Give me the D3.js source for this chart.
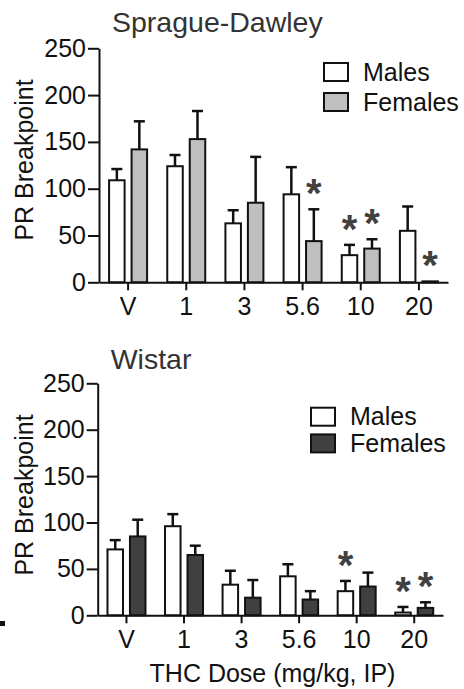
<!DOCTYPE html>
<html>
<head>
<meta charset="utf-8">
<script src="https://cdn.jsdelivr.net/npm/d3@7"></script>
<style>
  html, body { margin: 0; padding: 0; background: #fff; }
  svg { display: block; font-family: "Liberation Sans", Arial, sans-serif; }
</style>
</head>
<body>
<svg id="chart" width="464" height="689"></svg>
<script>
// THC dose groups (mg/kg, IP); V = vehicle
const doses = ["V", "1", "3", "5.6", "10", "20"];
const sexes = ["Males", "Females"];
const yTicks = [0, 50, 100, 150, 200, 250];

// Sprague-Dawley: mean PR breakpoint and SEM
const sdMaleMean   = [109, 124, 63, 94, 29, 55];
const sdMaleSem    = [12, 12, 14, 29, 11, 26];
const sdFemaleMean = [142, 153, 85, 44, 36, 1];
const sdFemaleSem  = [30, 30, 49, 34, 10, 0];
const sdMaleSig    = [false, false, false, false, true, false];
const sdFemaleSig  = [false, false, false, true, true, true];

// Wistar: mean PR breakpoint and SEM
const wiMaleMean   = [71, 96, 33, 42, 26, 3];
const wiMaleSem    = [10, 13, 15, 13, 11, 6];
const wiFemaleMean = [85, 65, 19, 17, 31, 8];
const wiFemaleSem  = [18, 10, 19, 9, 15, 6];
const wiMaleSig    = [false, false, false, false, true, true];
const wiFemaleSig  = [false, false, false, false, false, true];

const svg = d3.select("#chart");
const FONT = 25;
const STAR = 40;

function drawPanel(p) {
  const g = svg.append("g");

  const x = d3.scaleBand().domain(doses).range([p.left, p.right]).padding(0);
  const sub = d3.scaleBand().domain(sexes).range([-19, 19]).paddingInner(0.31);
  const y = d3.scaleLinear().domain([0, 250]).range([p.bottom, p.top]);

  const rows = [];
  doses.forEach((d, i) => {
    rows.push({ dose: d, sex: "Males", mean: p.maleMean[i], sem: p.maleSem[i], sig: p.maleSig[i] });
    rows.push({ dose: d, sex: "Females", mean: p.femaleMean[i], sem: p.femaleSem[i], sig: p.femaleSig[i] });
  });
  const cx = r => x(r.dose) + x.bandwidth() / 2 + sub(r.sex) + sub.bandwidth() / 2;
  const fill = { Males: "#ffffff", Females: p.femaleFill };

  // error bars (upper half only)
  const err = g.append("g").attr("stroke", "#111").attr("stroke-width", 2.5).attr("fill", "none");
  rows.filter(r => r.sem > 0).forEach(r => {
    err.append("line").attr("x1", cx(r)).attr("x2", cx(r))
      .attr("y1", y(r.mean)).attr("y2", y(r.mean + r.sem));
    err.append("line").attr("x1", cx(r) - 5.5).attr("x2", cx(r) + 5.5)
      .attr("y1", y(r.mean + r.sem)).attr("y2", y(r.mean + r.sem));
  });

  // bars
  g.append("g").selectAll("rect").data(rows).join("rect")
    .attr("x", r => x(r.dose) + x.bandwidth() / 2 + sub(r.sex))
    .attr("width", sub.bandwidth())
    .attr("y", r => y(r.mean))
    .attr("height", r => y(0) - y(r.mean))
    .attr("fill", r => fill[r.sex])
    .attr("stroke", "#111")
    .attr("stroke-width", 2);

  // significance markers, centred about 21px above the error cap
  g.append("g").selectAll("text").data(rows.filter(r => r.sig)).join("text")
    .attr("x", r => cx(r))
    .attr("y", r => y(r.mean + r.sem) - 21 + 0.47 * STAR)
    .attr("text-anchor", "middle")
    .attr("font-size", STAR)
    .attr("font-weight", "bold")
    .attr("fill", "#404040")
    .text("*");

  // axes
  const yAxis = g.append("g").attr("transform", `translate(${p.left},0)`)
    .call(d3.axisLeft(y).tickValues(yTicks).tickSize(11).tickSizeOuter(0).tickPadding(2));
  const xAxis = g.append("g").attr("transform", `translate(0,${p.bottom})`)
    .call(d3.axisBottom(x).tickSize(8).tickSizeOuter(0).tickPadding(7));
  [yAxis, xAxis].forEach(a => {
    a.selectAll("path, line").attr("stroke", "#111").attr("stroke-width", 2);
    a.selectAll("text").attr("font-size", FONT).attr("fill", "#111")
      .attr("font-family", "'Liberation Sans', Arial, sans-serif");
  });
  xAxis.selectAll("text").attr("dy", null).attr("y", 33);

  // titles
  g.append("text").attr("x", p.left + 13).attr("y", p.titleY)
    .attr("font-size", 28.5).attr("fill", "#333").text(p.title);
  g.append("text")
    .attr("transform", `translate(33,${p.labelY}) rotate(-90)`)
    .attr("text-anchor", "middle").attr("font-size", FONT).attr("fill", "#111")
    .text("PR Breakpoint");

  // legend
  const leg = g.append("g");
  sexes.forEach((s, i) => {
    const cy = p.legY + i * p.legGap;
    leg.append("rect").attr("x", p.legX).attr("y", cy - 9).attr("width", 24).attr("height", 18)
      .attr("fill", fill[s]).attr("stroke", "#111").attr("stroke-width", 2);
    leg.append("text").attr("x", p.legX + 39).attr("y", cy).attr("dy", "0.35em")
      .attr("font-size", FONT).attr("fill", "#111").text(s);
  });
}

drawPanel({
  title: "Sprague-Dawley", titleY: 32,
  left: 99, right: 448, top: 48.3, bottom: 282.3, labelY: 160,
  maleMean: sdMaleMean, maleSem: sdMaleSem, maleSig: sdMaleSig,
  femaleMean: sdFemaleMean, femaleSem: sdFemaleSem, femaleSig: sdFemaleSig,
  femaleFill: "#bfbfbf", legX: 324, legY: 72, legGap: 30
});

drawPanel({
  title: "Wistar", titleY: 369,
  left: 97.7, right: 443, top: 383.3, bottom: 615.3, labelY: 495,
  maleMean: wiMaleMean, maleSem: wiMaleSem, maleSig: wiMaleSig,
  femaleMean: wiFemaleMean, femaleSem: wiFemaleSem, femaleSig: wiFemaleSig,
  femaleFill: "#404040", legX: 311, legY: 416.7, legGap: 26.7
});

// shared x-axis title
svg.append("text").attr("x", 272.5).attr("y", 681.5).attr("text-anchor", "middle")
  .attr("font-size", FONT).attr("fill", "#111").text("THC Dose (mg/kg, IP)");

// small stray mark at the lower left margin
svg.append("rect").attr("x", 0).attr("y", 621).attr("width", 5).attr("height", 5).attr("fill", "#111");
</script>
</body>
</html>
